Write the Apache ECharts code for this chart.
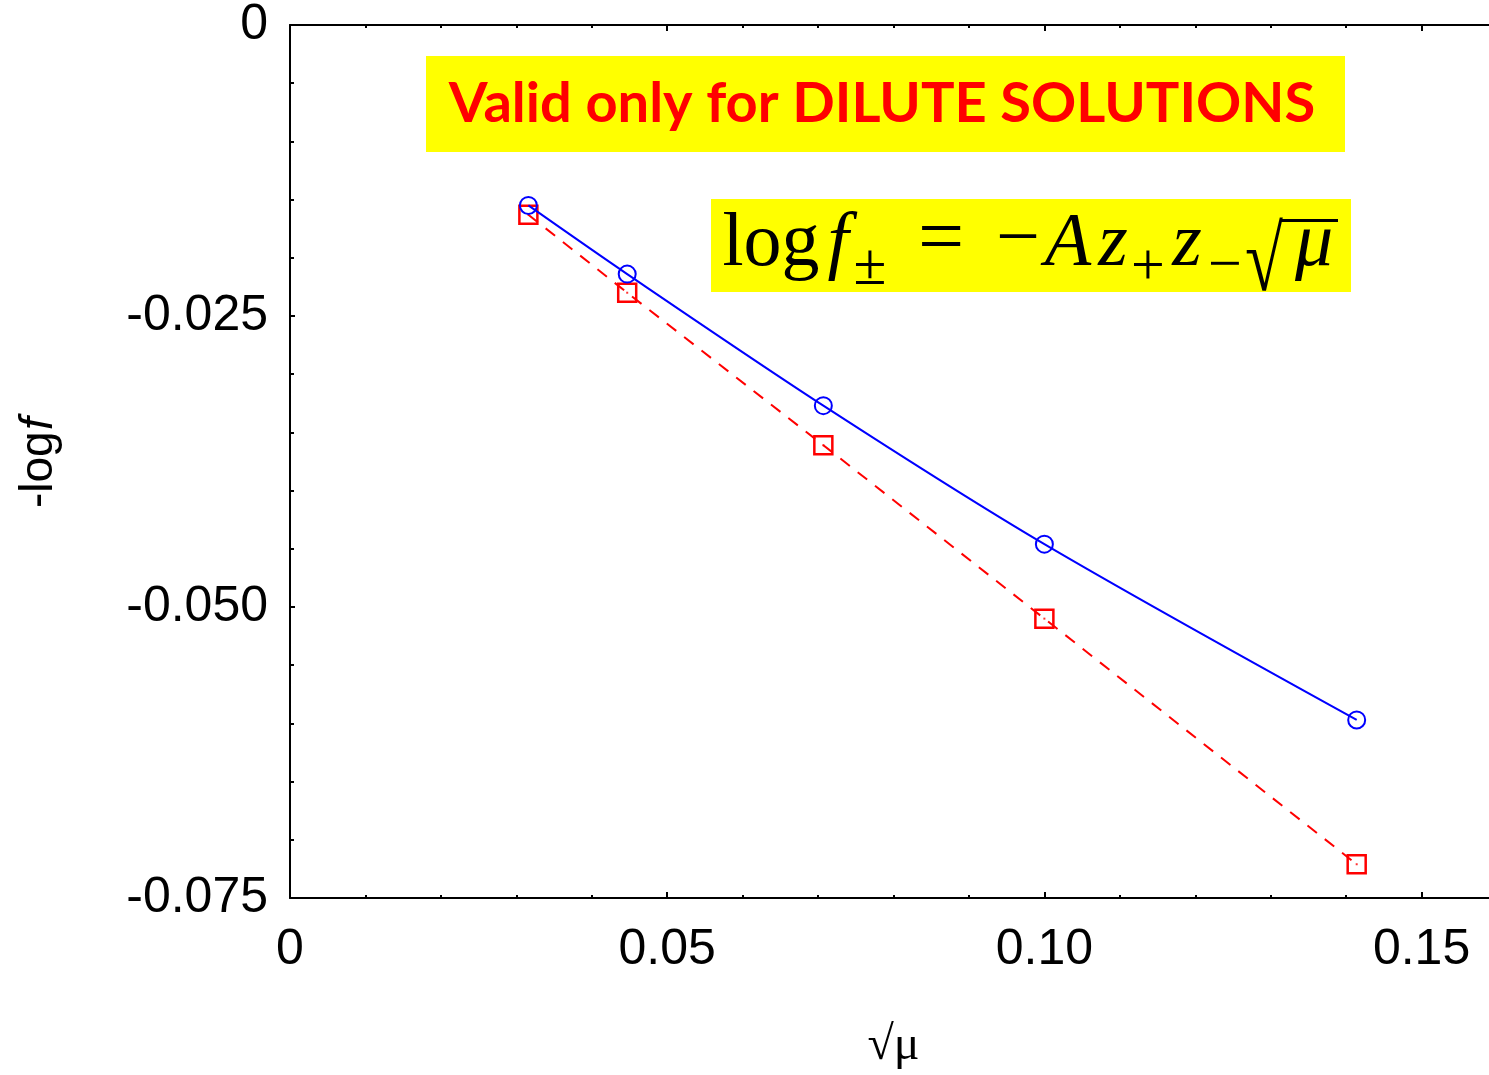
<!DOCTYPE html>
<html lang="en">
<head>
    <meta charset="UTF-8">
    <title>Debye-Huckel limiting law</title>
    <script src="https://cdn.jsdelivr.net/npm/echarts@6/dist/echarts.min.js"></script>
    <style>
        html, body {
            margin: 0;
            padding: 0;
            overflow: hidden;
            background: #fff;
        }

        #chart {
            width: 1497px;
            height: 1075px;
        }
    </style>
</head>
<body>

    <div id="chart"></div>

    <script>
        // sqrt(mu) values and the two -log f curves
        var sqrtMu = [0.0316, 0.0447, 0.0707, 0.1000, 0.1414];
        var extendedLaw = [-0.0155, -0.0214, -0.0327, -0.0446, -0.0597];
        var limitingLaw = [-0.0163, -0.0230, -0.0361, -0.0510, -0.0721];

        var xTicks = { min: 0, max: 0.16, interval: 0.05 };
        var yTicks = { min: -0.075, max: 0, interval: 0.025 };

        var myChart = echarts.init(document.getElementById('chart'));

        function pairs(ys) {
            return sqrtMu.map(function (x, i) { return [x, ys[i]]; });
        }

        var serif = '"Liberation Serif", "DejaVu Serif", serif';
        var sans = '"Liberation Sans", Arial, sans-serif';
        var tickFont = { fontFamily: sans, fontSize: 50, color: '#000' };

        // pieces of the formula: text, centre x, middle y, size, italic, scaleX
        var formula = [
            ['log', 771, 245, 76, false, 1],
            ['f', 838, 245, 76, true, 1],
            ['±', 870, 268, 60, false, 1],
            ['=', 941, 242, 78, false, 1.05],
            ['−', 1018, 242, 78, false, 1],
            ['A', 1068, 245, 76, true, 1],
            ['z', 1113, 245, 76, true, 1],
            ['+', 1148, 268, 60, false, 1],
            ['z', 1187, 245, 76, true, 1],
            ['−', 1225, 267, 60, false, 1],
            ['√', 1264, 266, 92, false, 0.75],
            ['μ', 1314, 245, 76, true, 1]
        ];

        var graphics = [
            {
                type: 'rect', left: 426, top: 56, z: 10,
                shape: { width: 919, height: 96 },
                style: { fill: '#ffff00' }
            },
            {
                type: 'text', x: 882, y: 104, z: 11,
                style: {
                    text: 'Valid only for DILUTE SOLUTIONS',
                    fontFamily: 'Lato, "Open Sans", sans-serif',
                    fontWeight: 'bold', fontSize: 56, fill: '#ff0000',
                    align: 'center', verticalAlign: 'middle'
                }
            },
            {
                type: 'rect', left: 711, top: 199, z: 10,
                shape: { width: 640, height: 93 },
                style: { fill: '#ffff00' }
            },
            {
                type: 'line', z: 12,
                shape: { x1: 1280, y1: 220.5, x2: 1338, y2: 220.5 },
                style: { stroke: '#000', lineWidth: 3 }
            },
            {
                type: 'group', x: 39, y: 458, rotation: Math.PI / 2, z: 11,
                children: [
                    {
                        type: 'text', x: -50, y: 0,
                        style: {
                            text: '-log', fontFamily: sans, fontSize: 46, fill: '#000',
                            align: 'left', verticalAlign: 'middle'
                        }
                    },
                    {
                        type: 'text', x: 28, y: 0,
                        style: {
                            text: 'f', fontFamily: sans, fontSize: 46, fontStyle: 'italic', fill: '#000',
                            align: 'left', verticalAlign: 'middle'
                        }
                    }
                ]
            }
        ];

        formula.forEach(function (p) {
            graphics.push({
                type: 'text', x: p[1], y: p[2], z: 11, scaleX: p[5],
                style: {
                    text: p[0], fontFamily: serif, fontSize: p[3],
                    fontStyle: p[4] ? 'italic' : 'normal', fill: '#000',
                    align: 'center', verticalAlign: 'middle'
                }
            });
        });

        var option = {
            animation: false,
            backgroundColor: '#fff',
            grid: { left: 290, top: 22, right: 0, bottom: 175 },
            xAxis: [
                {
                    type: 'value', min: xTicks.min, max: xTicks.max, interval: xTicks.interval,
                    name: '√μ', nameLocation: 'middle', nameGap: 148,
                    nameTextStyle: { fontFamily: serif, fontSize: 48, color: '#000', verticalAlign: 'middle' },
                    axisLine: { onZero: false, lineStyle: { color: '#000', width: 2 } },
                    axisTick: { inside: true, length: 6, lineStyle: { color: '#000', width: 2 } },
                    minorTick: { show: true, splitNumber: 5, length: 3, lineStyle: { color: '#000', width: 2 } },
                    splitLine: { show: false },
                    axisLabel: Object.assign({
                        margin: 27, showMaxLabel: false,
                        formatter: function (v) { return v === 0 ? '0' : v.toFixed(2); }
                    }, tickFont)
                },
                {
                    type: 'value', position: 'top', min: xTicks.min, max: xTicks.max, interval: xTicks.interval,
                    axisLine: { onZero: false, lineStyle: { color: '#000', width: 2 } },
                    axisTick: { inside: true, length: 6, lineStyle: { color: '#000', width: 2 } },
                    minorTick: { show: true, splitNumber: 5, length: 3, lineStyle: { color: '#000', width: 2 } },
                    splitLine: { show: false },
                    axisLabel: { show: false }
                }
            ],
            yAxis: {
                type: 'value', min: yTicks.min, max: yTicks.max, interval: yTicks.interval,
                axisLine: { show: true, onZero: false, lineStyle: { color: '#000', width: 2 } },
                axisTick: { show: true, inside: true, length: 5, lineStyle: { color: '#000', width: 2 } },
                minorTick: { show: true, splitNumber: 5, length: 4, lineStyle: { color: '#000', width: 2 } },
                splitLine: { show: false },
                axisLabel: Object.assign({
                    margin: 22,
                    formatter: function (v) { return v === 0 ? '0' : v.toFixed(3); }
                }, tickFont)
            },
            graphic: graphics,
            series: [
                {
                    name: 'extended',
                    type: 'line',
                    smooth: 0.3,
                    data: pairs(extendedLaw),
                    symbol: 'circle',
                    symbolSize: 17,
                    lineStyle: { color: '#0000ff', width: 2 },
                    itemStyle: { color: 'none', borderColor: '#0000ff', borderWidth: 2 },
                    z: 3
                },
                {
                    name: 'limiting',
                    type: 'line',
                    data: pairs(limitingLaw),
                    symbol: 'rect',
                    symbolSize: 18,
                    lineStyle: { color: '#ff0000', width: 2, type: [12, 10] },
                    itemStyle: { color: 'none', borderColor: '#ff0000', borderWidth: 2.5 },
                    z: 2
                },
                {
                    name: 'limiting centre',
                    type: 'scatter',
                    data: pairs(limitingLaw),
                    symbol: 'rect',
                    symbolSize: 2,
                    itemStyle: { color: '#ff0000' },
                    z: 2
                }
            ]
        };

        myChart.setOption(option);
    </script>

</body>
</html>
